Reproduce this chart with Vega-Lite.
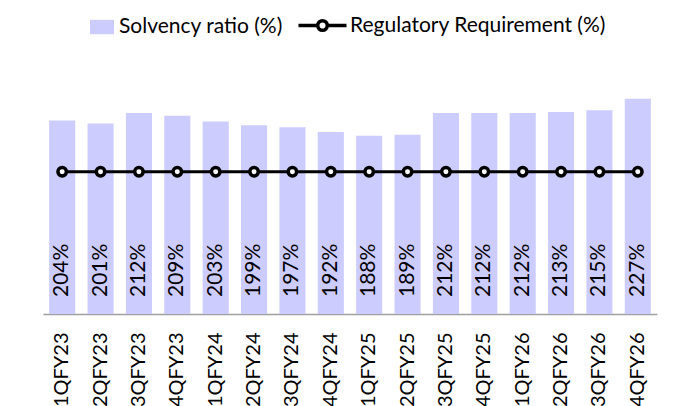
{
  "$schema": "https://vega.github.io/schema/vega-lite/v6.json",
  "width": 614,
  "height": 237,
  "autosize": {"type": "none"},
  "padding": {"left": 43, "top": 77, "right": 40, "bottom": 92},
  "background": "white",
  "config": {
    "font": "Lato",
    "view": {"stroke": null},
    "text": {"font": "Lato"}
  },
  "data": {
    "values": [
      {"quarter": "1QFY23", "solvency": 204, "req": 150, "s1": "Solvency ratio (%)", "s2": "Regulatory Requirement (%)"},
      {"quarter": "2QFY23", "solvency": 201, "req": 150, "s1": "Solvency ratio (%)", "s2": "Regulatory Requirement (%)"},
      {"quarter": "3QFY23", "solvency": 212, "req": 150, "s1": "Solvency ratio (%)", "s2": "Regulatory Requirement (%)"},
      {"quarter": "4QFY23", "solvency": 209, "req": 150, "s1": "Solvency ratio (%)", "s2": "Regulatory Requirement (%)"},
      {"quarter": "1QFY24", "solvency": 203, "req": 150, "s1": "Solvency ratio (%)", "s2": "Regulatory Requirement (%)"},
      {"quarter": "2QFY24", "solvency": 199, "req": 150, "s1": "Solvency ratio (%)", "s2": "Regulatory Requirement (%)"},
      {"quarter": "3QFY24", "solvency": 197, "req": 150, "s1": "Solvency ratio (%)", "s2": "Regulatory Requirement (%)"},
      {"quarter": "4QFY24", "solvency": 192, "req": 150, "s1": "Solvency ratio (%)", "s2": "Regulatory Requirement (%)"},
      {"quarter": "1QFY25", "solvency": 188, "req": 150, "s1": "Solvency ratio (%)", "s2": "Regulatory Requirement (%)"},
      {"quarter": "2QFY25", "solvency": 189, "req": 150, "s1": "Solvency ratio (%)", "s2": "Regulatory Requirement (%)"},
      {"quarter": "3QFY25", "solvency": 212, "req": 150, "s1": "Solvency ratio (%)", "s2": "Regulatory Requirement (%)"},
      {"quarter": "4QFY25", "solvency": 212, "req": 150, "s1": "Solvency ratio (%)", "s2": "Regulatory Requirement (%)"},
      {"quarter": "1QFY26", "solvency": 212, "req": 150, "s1": "Solvency ratio (%)", "s2": "Regulatory Requirement (%)"},
      {"quarter": "2QFY26", "solvency": 213, "req": 150, "s1": "Solvency ratio (%)", "s2": "Regulatory Requirement (%)"},
      {"quarter": "3QFY26", "solvency": 215, "req": 150, "s1": "Solvency ratio (%)", "s2": "Regulatory Requirement (%)"},
      {"quarter": "4QFY26", "solvency": 227, "req": 150, "s1": "Solvency ratio (%)", "s2": "Regulatory Requirement (%)"}
    ]
  },
  "transform": [
    {"calculate": "format(datum.solvency, '.0f') + '%'", "as": "label"}
  ],
  "encoding": {
    "x": {
      "field": "quarter",
      "type": "nominal",
      "sort": null,
      "scale": {"paddingInner": 0.32, "paddingOuter": 0.16},
      "axis": {
        "title": null,
        "labelAngle": -90,
        "labelFont": "Lato",
        "labelFontSize": 20,
        "labelColor": "#000000",
        "labelPadding": 18,
        "ticks": false,
        "tickSize": 0,
        "domainColor": "#a0a0a0",
        "domainWidth": 1.5
      }
    }
  },
  "layer": [
    {
      "mark": {"type": "bar"},
      "encoding": {
        "y": {"field": "solvency", "type": "quantitative", "scale": {"domain": [0, 250], "nice": false}, "axis": null},
        "color": {
          "field": "s1",
          "type": "nominal",
          "scale": {"range": ["#ccccff"]},
          "legend": {
            "title": null,
            "orient": "none",
            "legendX": 47,
            "legendY": -62,
            "symbolType": "M-1,-0.6L1,-0.6L1,0.6L-1,0.6Z",
            "symbolSize": 576,
            "symbolStrokeWidth": 0,
            "labelOffset": 5,
            "labelFont": "Lato",
            "labelFontSize": 21,
            "labelColor": "#000000",
            "labelLimit": 400
          }
        }
      }
    },
    {
      "mark": {"type": "text", "angle": 270, "align": "left", "baseline": "middle", "dx": 17, "font": "Lato", "fontSize": 21, "color": "#000000"},
      "encoding": {
        "y": {"datum": 0, "type": "quantitative"},
        "text": {"field": "label"}
      }
    },
    {
      "mark": {"type": "line", "strokeWidth": 3},
      "encoding": {
        "y": {"field": "req", "type": "quantitative"},
        "stroke": {
          "field": "s2",
          "type": "nominal",
          "scale": {"range": ["#000000"]},
          "legend": {
            "title": null,
            "orient": "none",
            "legendX": 269,
            "legendY": -62,
            "symbolType": "M-4,0L-0.8,0M0.8,0L4,0M-0.8,0A0.8,0.8,0,1,0,0.8,0A0.8,0.8,0,1,0,-0.8,0Z",
            "symbolSize": 144,
            "symbolStrokeWidth": 3.5,
            "symbolFillColor": "#ffffff",
            "labelOffset": 17,
            "labelFont": "Lato",
            "labelFontSize": 21,
            "labelColor": "#000000",
            "labelLimit": 400,
            "encode": {"symbols": {"update": {"fill": {"value": "#ffffff"}, "stroke": {"value": "#000000"}, "strokeWidth": {"value": 3.5}}}}
          }
        }
      }
    },
    {
      "mark": {"type": "point", "shape": "circle", "filled": true, "fill": "#ffffff", "stroke": "#000000", "strokeWidth": 3.5, "size": 72, "opacity": 1},
      "encoding": {
        "y": {"field": "req", "type": "quantitative"}
      }
    }
  ]
}
